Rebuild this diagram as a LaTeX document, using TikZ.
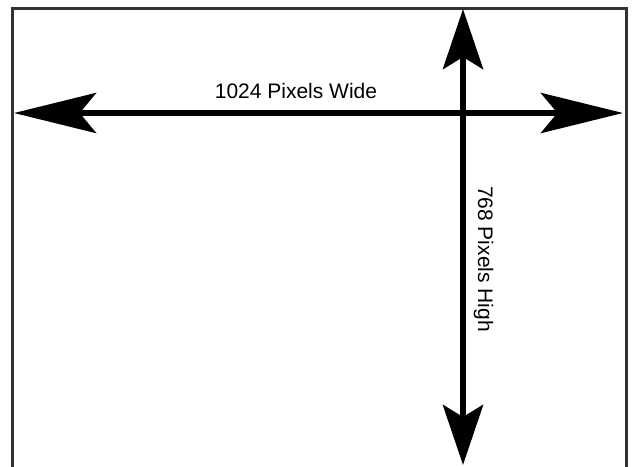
\documentclass[tikz,border=0pt]{standalone}
\usepackage{fontspec}
\setmainfont{Liberation Sans}
\usetikzlibrary{arrows.meta,positioning}
\definecolor{framegray}{RGB}{50,50,50}

\begin{document}
\begin{tikzpicture}[
        x=1pt, y=-1pt,
        % Screen outline and the two dimension arrows
        frame/.style={draw=framegray, line width=2.5pt},
        dimarrow/.style={line width=6.5pt, draw=black,
            {Stealth[length=#1, width=40pt, inset=0.2*#1]}-{Stealth[length=#1, width=40pt, inset=0.2*#1]}},
        dimlabel/.style={font=\fontsize{21}{24}\selectfont, text=black, inner sep=0pt}
    ]
        \useasboundingbox (0,0) rectangle (632,466);
        % Screen
        \draw[frame] (12.5,472) -- (12.5,8.5) -- (626.5,8.5) -- (626.5,472);

        % Ends of the arrows
        \coordinate (west) at (14,113);
        \coordinate (east) at (623,113);
        \coordinate (north) at (463,9);
        \coordinate (south) at (463,465);

        % Connections
        \draw[dimarrow=82pt] (west) -- (east);
        \draw[dimarrow=60pt] (north) -- (south);

        % Labels
        \node[dimlabel, anchor=base] (wide) at (296,98.5) {1024 Pixels Wide};
        \node[dimlabel, rotate=-90] (high) at (483.5,259) {768 Pixels High};
    \end{tikzpicture}
\end{document}
